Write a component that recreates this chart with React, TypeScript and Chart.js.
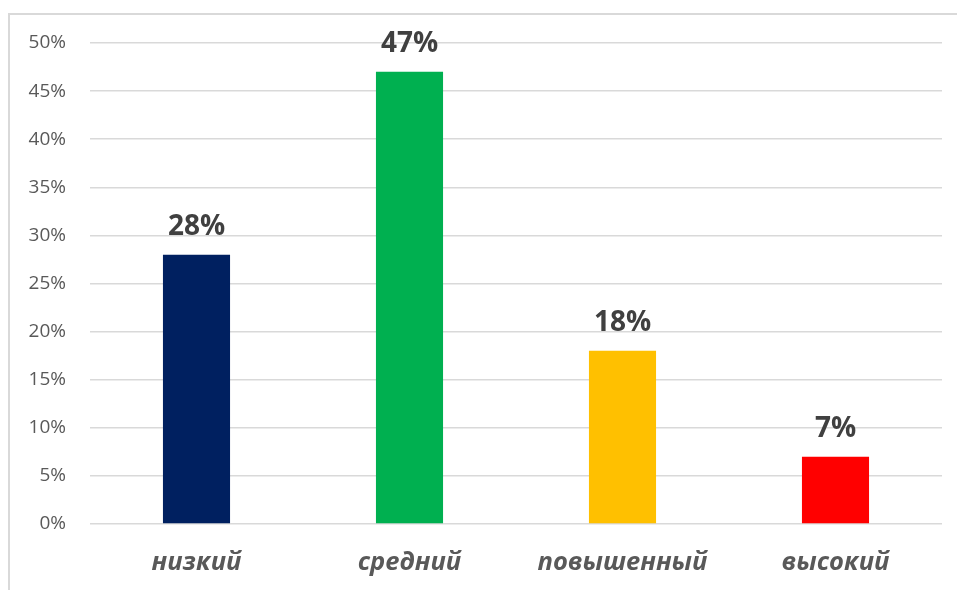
import React, { useEffect, useRef } from "react";
import { Chart, registerables } from "chart.js";

Chart.register(...registerables);

const categories = ["низкий", "средний", "повышенный", "высокий"];
const values = [28, 47, 18, 7];
const barColors = ["#002060", "#00B050", "#FFC000", "#FF0000"];
const yTicks = [0, 5, 10, 15, 20, 25, 30, 35, 40, 45, 50];

const labelPlugin = {
  id: "barLabels",
  afterDatasetsDraw(chart: any) {
    const ctx = chart.ctx;
    const meta = chart.getDatasetMeta(0);
    ctx.save();
    ctx.font = "bold 28px 'Open Sans'";
    ctx.fillStyle = "#404040";
    ctx.textAlign = "center";
    ctx.textBaseline = "alphabetic";
    meta.data.forEach((bar: any, i: number) => {
      const v = chart.data.datasets[0].data[i];
      ctx.fillText(v + "%", bar.x, bar.y - 20);
    });
    ctx.restore();
  },
};

export default function App() {
  const ref = useRef<HTMLCanvasElement>(null);
  useEffect(() => {
    if (!ref.current) return;
    const chart = new Chart(ref.current, {
      type: "bar",
      data: {
        labels: categories,
        datasets: [
          {
            data: values,
            backgroundColor: barColors,
            categoryPercentage: 1,
            barPercentage: 0.315,
          },
        ],
      },
      options: {
        animation: false,
        responsive: false,
        maintainAspectRatio: false,
        layout: { padding: { left: 0, right: 15, top: 43, bottom: 0 } },
        plugins: { legend: { display: false }, tooltip: { enabled: false } },
        scales: {
          x: {
            grid: { display: false, drawTicks: false },
            border: { display: false },
            ticks: {
              padding: 23,
              color: "#595959",
              font: { family: "'Open Sans'", size: 25.5, weight: "bold", style: "italic" },
            },
            afterFit(scale: any) {
              scale.height = 66;
            },
          },
          y: {
            min: 0,
            max: 50,
            afterBuildTicks(scale: any) {
              scale.ticks = yTicks.map((v) => ({ value: v }));
            },
            grid: { color: "#d9d9d9", lineWidth: 1.5, drawTicks: false },
            border: { display: false },
            ticks: {
              padding: 24,
              color: "#595959",
              font: { family: "'Open Sans'", size: 19 },
              callback: (v: any) => v + "%",
            },
            afterFit(scale: any) {
              scale.width = 90;
            },
          },
        },
      },
      plugins: [labelPlugin],
    });
    return () => chart.destroy();
  }, []);
  return (
    <div style={{ position: "fixed", left: 0, top: 0, width: 957, height: 590, background: "#fff" }}>
      <div
        style={{
          position: "absolute",
          left: 8,
          top: 13,
          width: 960,
          height: 600,
          borderTop: "2px solid #d9d9d9",
          borderLeft: "2px solid #d9d9d9",
        }}
      />
      <canvas
        ref={ref}
        width={957}
        height={590}
        style={{ position: "absolute", left: 0, top: 0, display: "block" }}
      />
    </div>
  );
}
